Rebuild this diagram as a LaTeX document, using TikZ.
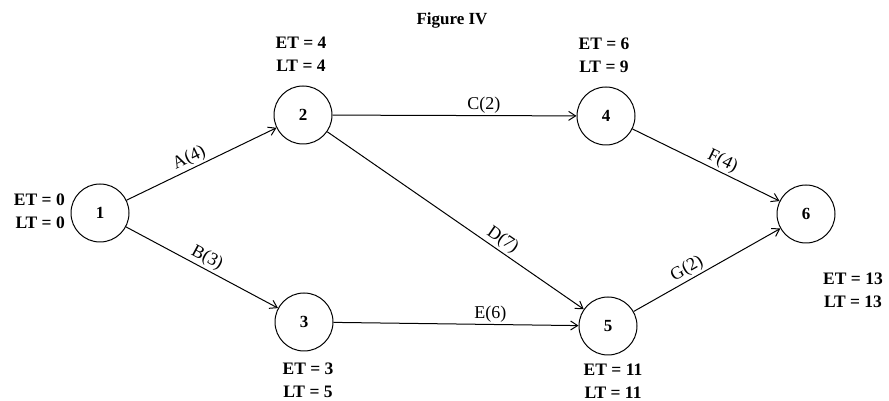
\documentclass[tikz,border=0pt]{standalone}
\usepackage{fontspec}
\setmainfont{Liberation Serif}
\usetikzlibrary{arrows.meta}
\begin{document}
\begin{tikzpicture}[x=1pt,y=1pt,
  ev/.style={circle,draw,line width=1pt,minimum size=58pt,inner sep=0pt,font=\fontsize{17}{19}\selectfont\bfseries},
  act/.style={line width=1pt,-{Straight Barb[length=7pt,width=9pt]}},
  lab/.style={font=\fontsize{18}{20}\selectfont,inner sep=2pt},
  tl/.style={font=\fontsize{17.5}{23}\selectfont\bfseries,align=center,inner sep=0pt}]
\useasboundingbox (0,0) rectangle (889,401);
\node[font=\fontsize{17}{19}\selectfont\bfseries] (title) at (452,381) {Figure IV};
\node[ev] (n1) at (100,188) {1};
\node[ev] (n2) at (303,286) {2};
\node[ev] (n3) at (304,79) {3};
\node[ev] (n4) at (606,285) {4};
\node[ev] (n5) at (608,75) {5};
\node[ev] (n6) at (806,187) {6};
\node[tl,align=right,anchor=east] (t1) at (65,190) {ET = 0\\LT = 0};
\node[tl] (t2) at (301,347) {ET = 4\\LT = 4};
\node[tl] (t4) at (604,346) {ET = 6\\LT = 9};
\node[tl] (t3) at (308,21) {ET = 3\\LT = 5};
\node[tl] (t5) at (613,20) {ET = 11\\LT = 11};
\node[tl] (t6) at (853,111) {ET = 13\\LT = 13};
\draw[act] (n1) -- node[lab,sloped,above,pos=0.45] (la) {A(4)} (n2);
\draw[act] (n1) -- node[lab,sloped,above,pos=0.5] (lb) {B(3)} (n3);
\draw[act] (n2) -- node[lab,above,pos=0.62] (lc) {C(2)} (n4);
\draw[act] (n2) -- node[lab,sloped,above,pos=0.66] (ld) {D(7)} (n5);
\draw[act] (n3) -- node[lab,above,pos=0.64] (le) {E(6)} (n5);
\draw[act] (n4) -- node[lab,sloped,above,pos=0.58] (lf) {F(4)} (n6);
\draw[act] (n5) -- node[lab,sloped,above,pos=0.4] (lg) {G(2)} (n6);
\end{tikzpicture}
\end{document}
